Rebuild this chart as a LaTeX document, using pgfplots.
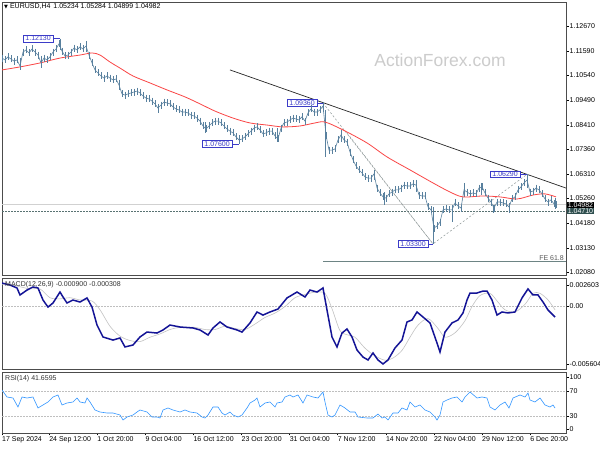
\documentclass[border=0pt]{standalone}
\usepackage{pgfplots}
\pgfplotsset{compat=1.18}
\usepackage{fontspec}
\setmainfont{Liberation Sans}
\newfontfamily\symf{DejaVu Sans}
\definecolor{barc}{RGB}{88,128,158}
\definecolor{mared}{RGB}{250,70,70}
\definecolor{macdblue}{RGB}{20,20,150}
\definecolor{sigc}{RGB}{195,195,195}
\definecolor{rsic}{RGB}{50,150,255}
\definecolor{lblue}{RGB}{60,60,200}
\definecolor{slate}{RGB}{47,79,79}
\definecolor{fibc}{RGB}{140,150,150}
\newcommand{\tf}{\fontsize{7}{8}\selectfont}
\begin{document}
\begin{tikzpicture}
\useasboundingbox (0pt,0pt) rectangle (600pt,450pt);
\fill[white] (0pt,0pt) rectangle (600pt,450pt);
\node[text=gray!40, font=\fontsize{17.5}{20}\selectfont, inner sep=0] at (440pt,390pt) {ActionForex.com};
\pgfplotsset{every axis/.append style={scale only axis, width=564pt, xmin=2, xmax=566,
  axis line style={draw=black!70, line width=0.6pt},
  tick style={draw=black, line width=0.5pt}, tick align=outside, major tick length=2.5pt,
  ytick pos=right, yticklabel pos=right, scaled y ticks=false,
  yticklabel style={font=\tf, anchor=west, inner sep=1pt},
  xtick=\empty}}
% ---------------- main price panel
\begin{axis}[at={(2pt,175pt)}, anchor=south west, height=273pt,
  ymin=1.01962, ymax=1.13701,
  ytick={1.1267,1.1159,1.1054,1.0949,1.0841,1.0736,1.0631,1.0526,1.0418,1.0313,1.0208},
  yticklabels={1.12670,1.11590,1.10540,1.09490,1.08410,1.07360,1.06310,1.05260,1.04180,1.03130,1.02080}]
\addplot[draw=black!18, line width=0.6pt] coordinates {(2,1.04982)(566,1.04982)};
\addplot[draw=slate!80, line width=0.5pt, dash pattern=on 1.5pt off 1.5pt] coordinates {(2,1.0471)(566,1.0471)};
\addplot[draw=slate!70, line width=0.6pt] coordinates {(323,1.02545)(566,1.02545)};
\addplot[draw=fibc, line width=0.5pt, dash pattern=on 2pt off 2pt] coordinates {(323,1.0936)(433,1.0330)(527,1.0629)};
\addplot[draw=fibc, line width=0.5pt, dash pattern=on 2pt off 2pt] coordinates {(347,1.0807)(433,1.0330)};
\addplot[draw=black!85, line width=0.7pt] coordinates {(230,1.1078)(566,1.0570)};
\addplot[barc, line width=0.6pt, mark=|, mark size=3.5pt, mark options={line width=0.7pt}] table {
x c
2 1.1129
5 1.1121
8 1.1134
11 1.1125
14 1.1116
17 1.1121
20 1.1095
23 1.1155
26 1.1164
29 1.1151
32 1.1168
35 1.1155
38 1.1142
41 1.1108
44 1.1129
47 1.1121
50 1.1134
53 1.1155
56 1.1168
59 1.1190
62 1.1159
65 1.1138
68 1.1142
71 1.1155
74 1.1172
77 1.1164
80 1.1177
83 1.1168
86 1.1181
89 1.1142
92 1.1108
95 1.1078
98 1.1065
101 1.1052
104 1.1043
107 1.1052
110 1.1043
113 1.1035
116 1.1039
119 1.1013
122 1.0975
125 1.0970
128 1.0975
131 1.0979
134 1.0983
137 1.0987
140 1.0979
143 1.0966
146 1.0957
149 1.0953
152 1.0944
155 1.0932
158 1.0914
161 1.0927
164 1.0940
167 1.0936
170 1.0932
173 1.0919
176 1.0910
179 1.0906
182 1.0897
185 1.0897
188 1.0893
191 1.0884
194 1.0880
197 1.0871
200 1.0858
203 1.0837
206 1.0824
209 1.0837
212 1.0850
215 1.0858
218 1.0858
221 1.0850
224 1.0837
227 1.0824
230 1.0815
233 1.0807
236 1.0790
239 1.0777
242 1.0781
245 1.0790
248 1.0803
251 1.0815
254 1.0828
257 1.0833
260 1.0820
263 1.0803
266 1.0807
269 1.0815
272 1.0815
275 1.0794
278 1.0781
281 1.0828
284 1.0850
287 1.0854
290 1.0863
293 1.0871
296 1.0867
299 1.0863
302 1.0876
305 1.0858
308 1.0893
311 1.0910
314 1.0897
317 1.0897
320 1.0906
323 1.0923
326 1.0798
329 1.0733
332 1.0733
335 1.0738
338 1.0777
341 1.0798
344 1.0777
347 1.0768
350 1.0725
353 1.0691
356 1.0665
359 1.0648
362 1.0635
365 1.0618
368 1.0613
371 1.0613
374 1.0631
377 1.0570
380 1.0549
383 1.0532
386 1.0527
389 1.0545
392 1.0553
395 1.0562
398 1.0562
401 1.0570
404 1.0583
407 1.0579
410 1.0579
413 1.0588
416 1.0583
419 1.0540
422 1.0536
425 1.0536
428 1.0489
431 1.0476
434 1.0398
437 1.0407
440 1.0424
443 1.0476
446 1.0480
449 1.0476
452 1.0476
455 1.0506
458 1.0493
461 1.0484
464 1.0562
467 1.0553
470 1.0545
473 1.0549
476 1.0545
479 1.0570
482 1.0575
485 1.0549
488 1.0527
491 1.0510
494 1.0484
497 1.0510
500 1.0510
503 1.0506
506 1.0502
509 1.0489
512 1.0523
515 1.0532
518 1.0562
521 1.0575
524 1.0592
527 1.0605
530 1.0553
533 1.0557
536 1.0570
539 1.0562
542 1.0545
545 1.0523
548 1.0510
551 1.0519
554 1.0502
556 1.0498
};
\addplot[barc, line width=0.7pt, unbounded coords=jump] coordinates {
(20,1.1129)(20,1.1078)(20,nan)
(41,1.1138)(41,1.1086)(41,nan)
(60,1.1213)(60,1.1164)(60,nan)
(86,1.1202)(86,1.1155)(86,nan)
(119,1.1035)(119,1.0992)(119,nan)
(158,1.0932)(158,1.0893)(158,nan)
(205,1.0854)(205,1.0807)(205,nan)
(239,1.0798)(239,1.0760)(239,nan)
(277,1.0828)(277,1.0768)(277,nan)
(323,1.0936)(323,1.0897)(323,nan)
(325.5,1.0906)(325.5,1.0704)(325.5,nan)
(341,1.0820)(341,1.0768)(341,nan)
(374,1.0648)(374,1.0605)(374,nan)
(384,1.0553)(384,1.0498)(384,nan)
(416,1.0605)(416,1.0553)(416,nan)
(433,1.0489)(433,1.0330)(433,nan)
(452,1.0498)(452,1.0424)(452,nan)
(464,1.0592)(464,1.0532)(464,nan)
(481,1.0592)(481,1.0540)(481,nan)
(493,1.0498)(493,1.0463)(493,nan)
(509,1.0506)(509,1.0463)(509,nan)
(527,1.0629)(527,1.0570)(527,nan)
(555,1.0527)(555,1.0480)
};
\addplot[mared, line width=0.8pt, smooth] coordinates {
(2,1.1078)(20,1.1091)(40,1.1108)(60,1.1129)(80,1.1142)(92,1.1151)(100,1.1142)
(110,1.1112)(120,1.1086)(133,1.1052)(150,1.1022)(167,1.0992)(185,1.0962)(200,1.0932)
(215,1.0901)(233,1.0871)(250,1.0850)(267,1.0841)(283,1.0833)(300,1.0837)(315,1.0850)
(325,1.0854)(343,1.0820)(367,1.0764)(387,1.0704)(410,1.0648)(433,1.0592)(450,1.0553)
(463,1.0532)(483,1.0536)(500,1.0532)(517,1.0523)(533,1.0540)(545,1.0545)(556,1.0532)};
\tikzset{lbl/.style={draw=lblue, fill=white, text=lblue, line width=0.5pt, font=\tf, inner xsep=2pt, inner ysep=0.8pt, anchor=east}}
\node[lbl] at (axis cs:53,1.1213) {1.12130};
\draw[lblue, line width=0.5pt] (axis cs:53,1.1213) -- (axis cs:60,1.1213);
\node[lbl] at (axis cs:317,1.0936) {1.09360};
\draw[lblue, line width=0.5pt] (axis cs:317,1.0936) -- (axis cs:323,1.0936);
\node[lbl] at (axis cs:232,1.0760) {1.07600};
\draw[lblue, line width=0.5pt] (axis cs:232,1.0760) -- (axis cs:239,1.0760);
\node[lbl] at (axis cs:428,1.0330) {1.03300};
\draw[lblue, line width=0.5pt] (axis cs:428,1.0330) -- (axis cs:433,1.0330);
\node[lbl] at (axis cs:520,1.0629) {1.06290};
\draw[lblue, line width=0.5pt] (axis cs:520,1.0629) -- (axis cs:527,1.0629);
\node[font=\tf, text=black!65, anchor=south east, inner sep=1pt] at (axis cs:565,1.02545) {FE 61.8};
\coordinate (pa) at (axis cs:566,1.04982);
\coordinate (pb) at (axis cs:566,1.0471);
\end{axis}
\node[fill=black, text=white, font=\tf, inner sep=0.6pt, anchor=west] at ([xshift=1pt]pa) {1.04982};
\node[fill=slate, text=white, font=\tf, inner sep=0.6pt, anchor=west] at ([xshift=1pt]pb) {1.04710};
\node[anchor=west, font=\tf, inner sep=0] at (4pt,443pt) {{\symf\fontsize{5}{6}\selectfont ▼}\hspace{2pt}EURUSD,H4\hspace{3pt}1.05234 1.05284 1.04899 1.04982};
% ---------------- MACD panel
\begin{axis}[at={(2pt,81pt)}, anchor=south west, height=91pt,
  ymin=-0.0057, ymax=0.0026,
  ytick={0.00196,0,-0.00524}, yticklabels={0.002603,0.00,-0.005604}]
\addplot[draw=black!25, line width=0.6pt, dash pattern=on 1.5pt off 1.5pt] coordinates {(2,0)(566,0)};
\addplot[sigc, line width=0.6pt, smooth] coordinates {
(2,0.0020)(15,0.0019)(30,0.0016)(40,0.0016)(50,0.0008)(60,0.0007)(70,0.0008)(80,0.0006)
(92,0.0005)(100,-0.0003)(110,-0.0018)(120,-0.0027)(130,-0.0031)(140,-0.0032)(150,-0.0028)
(160,-0.0025)(170,-0.0021)(180,-0.0019)(195,-0.0019)(205,-0.0021)(215,-0.0021)(225,-0.0018)
(235,-0.0020)(245,-0.0021)(255,-0.0016)(265,-0.0010)(275,-0.0006)(285,0.0000)(295,0.0008)
(305,0.0011)(315,0.0013)(325,0.0012)(332,-0.0002)(340,-0.0022)(348,-0.0026)(355,-0.0028)
(365,-0.0038)(375,-0.0045)(385,-0.0049)(393,-0.0047)(402,-0.0040)(410,-0.0028)(418,-0.0017)
(428,-0.0011)(438,-0.0020)(445,-0.0028)(455,-0.0024)(465,-0.0013)(472,0.0000)(480,0.0010)
(490,0.0012)(498,0.0004)(505,-0.0003)(515,-0.0005)(525,0.0002)(533,0.0012)(540,0.0012)
(548,0.0006)(555,-0.0003)};
\addplot[macdblue, line width=1.5pt] coordinates {
(2,0.00214)(10,0.00196)(17,0.00169)(20,0.00105)(27,0.00150)(33,0.00178)(38,0.00169)
(43,0.00059)(48,-0.00005)(53,0.00032)(60,0.00132)(63,0.00087)(67,0.00032)(73,0.00059)
(80,0.00041)(87,0.00078)(92,-0.00005)(97,-0.00169)(103,-0.00278)(113,-0.00306)(120,-0.00287)
(125,-0.00369)(133,-0.00351)(140,-0.00278)(147,-0.00233)(157,-0.00242)(163,-0.00214)
(170,-0.00169)(180,-0.00187)(193,-0.00196)(200,-0.00214)(208,-0.00260)(213,-0.00196)
(220,-0.00141)(227,-0.00187)(237,-0.00214)(242,-0.00233)(250,-0.00150)(257,-0.00050)
(263,-0.00078)(270,-0.00050)(278,-0.00023)(287,0.00078)(297,0.00132)(305,0.00087)
(310,0.00150)(317,0.00132)(323,0.00169)(327,-0.00032)(332,-0.00278)(337,-0.00369)
(342,-0.00242)(347,-0.00205)(352,-0.00278)(357,-0.00397)(363,-0.00461)(368,-0.00488)
(373,-0.00424)(378,-0.00488)(383,-0.00524)(388,-0.00488)(395,-0.00378)(402,-0.00306)
(407,-0.00141)(412,-0.00123)(417,-0.00050)(423,-0.00096)(430,-0.00150)(437,-0.00333)
(440,-0.00415)(445,-0.00233)(452,-0.00150)(458,-0.00123)(463,-0.00059)(467,0.00059)
(470,0.00123)(477,0.00123)(483,0.00141)(487,0.00141)(492,0.00059)(497,-0.00078)
(502,-0.00050)(508,-0.00059)(515,-0.00050)(522,0.00078)(528,0.00160)(533,0.00105)
(538,0.00105)(543,0.00041)(548,-0.00032)(555,-0.00096)};
\end{axis}
\node[anchor=west, font=\tf, text=black!80, inner sep=0] at (5pt,165pt) {MACD(12,26,9) -0.000900 -0.000308};
% ---------------- RSI panel
\begin{axis}[at={(2pt,17pt)}, anchor=south west, height=61pt,
  ymin=2.8, ymax=100.4,
  ytick={9.2,30,70,92.4}, yticklabels={0,30,70,100},
  xtick={2,49.1,97.2,145.3,193.4,241.5,289.6,337.7,385.8,433.9,482,530.1},
  xticklabels={17 Sep 2024,24 Sep 12:00,1 Oct 20:00,9 Oct 04:00,16 Oct 12:00,23 Oct 20:00,31 Oct 04:00,7 Nov 12:00,14 Nov 20:00,22 Nov 04:00,29 Nov 12:00,6 Dec 20:00},
  xtick pos=bottom, xticklabel style={font=\tf, anchor=north west, inner sep=1pt, xshift=-1pt}]
\addplot[draw=black!25, line width=0.6pt, dash pattern=on 1.5pt off 1.5pt] coordinates {(2,70)(566,70)};
\addplot[draw=black!25, line width=0.6pt, dash pattern=on 1.5pt off 1.5pt] coordinates {(2,30)(566,30)};
\addplot[rsic, line width=0.6pt] coordinates {
(2,71.6)(7,60.4)(13,58.8)(18,44.4)(22,60.4)(27,58.8)(33,60.4)(38,42.8)(43,47.6)(48,52.4)
(53,60.4)(58,63.6)(62,47.6)(67,50.8)(73,52.4)(77,58.8)(80,52.4)(85,50.8)(87,58.8)(90,52.4)
(95,39.6)(100,36.4)(107,34.8)(113,34.8)(120,31.6)(123,23.6)(127,28.4)(133,31.6)(137,36.4)
(140,39.6)(147,36.4)(152,28.4)(157,28.4)(160,26.8)(163,39.6)(168,42.8)(173,39.6)(180,36.4)
(185,39.6)(190,36.4)(197,34.8)(202,28.4)(205,26.8)(208,31.6)(213,44.4)(218,44.4)(222,34.8)
(225,31.6)(230,36.4)(233,31.6)(238,28.4)(242,31.6)(247,42.8)(250,50.8)(255,55.6)(257,58.8)
(260,44.4)(265,50.8)(270,52.4)(275,44.4)(277,50.8)(282,52.4)(285,60.4)(290,63.6)(293,60.4)
(298,63.6)(303,50.8)(307,63.6)(313,60.4)(318,58.8)(323,68.4)(325,52.4)(328,31.6)(332,28.4)
(335,31.6)(340,47.6)(345,42.8)(350,36.4)(355,36.4)(358,28.4)(367,26.8)(373,26.8)(378,33.2)
(382,26.8)(385,28.4)(388,23.6)(393,34.8)(398,34.8)(402,42.8)(407,39.6)(410,52.4)(415,44.4)
(420,47.6)(425,39.6)(430,36.4)(435,28.4)(437,23.6)(440,31.6)(443,52.4)(447,55.6)(452,58.8)
(457,60.4)(462,52.4)(465,60.4)(470,68.4)(477,58.8)(482,60.4)(487,58.8)(490,44.4)(495,39.6)
(500,47.6)(505,52.4)(509,42.8)(513,58.8)(520,63.6)(525,60.4)(528,66.8)(530,55.6)(535,52.4)
(540,58.8)(545,47.6)(550,44.4)(553,47.6)(555,42.8)};
\end{axis}
\node[anchor=west, font=\tf, text=black!80, inner sep=0] at (5pt,71pt) {RSI(14) 41.6595};
\end{tikzpicture}
\end{document}
